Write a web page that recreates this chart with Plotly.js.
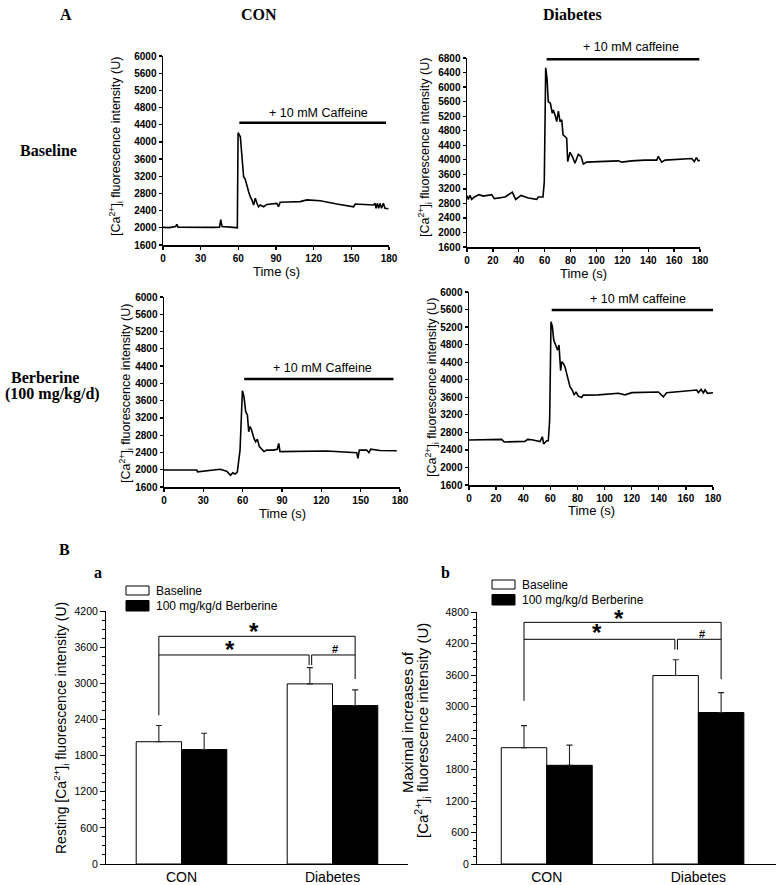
<!DOCTYPE html>
<html><head><meta charset="utf-8">
<script src="https://cdn.plot.ly/plotly-3.0.1.min.js"></script>
<style>html,body{margin:0;padding:0;background:#fff}#chart{width:776px;height:885px}</style>
</head><body><div id="chart"></div>
<script>
// ---------- DATA ----------
// Panel A, CON baseline
const conBaseT = [0,5,10,11,12,20,30,40,45,46,47,52,56,59.2,59.8,61.6,62.9,64.2,65.5,66.9,68.2,69.5,70.8,72.2,73.5,74.8,76.1,77.4,80.1,82.7,90.7,92,93.3,100,109.3,114.6,125.2,138.5,151.8,153.1,160,167.7,168.9,169.7,170.7,171.8,172.8,174.1,175.5,176.8,179.5];
const conBaseV = [2010,2005,2030,2080,2015,2010,2005,2010,2015,2190,2030,2025,2010,2000,4215,4120,3735,3190,3130,2960,2840,2725,2650,2530,2690,2570,2490,2530,2490,2545,2570,2490,2595,2600,2610,2650,2630,2555,2490,2555,2545,2530,2570,2455,2570,2455,2570,2455,2570,2455,2445];
// Panel A, Diabetes baseline
const diaBaseT = [0,1,2.3,3.6,5.7,9.3,12.6,19.1,21.1,29.4,35,37.6,41.7,47.4,53.8,55.1,58.7,59.7,60.8,61.8,62.8,64.4,65.9,66.7,68,69.3,70.6,71.9,73.2,74.2,75.7,77,77.8,79.6,81.4,83.4,86,88.1,89.9,92.5,101.5,117,119.5,127.2,137.5,146.6,147.8,150.4,153,163.3,173.6,175.6,177.2,178.7,180];
const diaBaseV = [3020,2910,3020,2910,2975,3040,3000,3040,2930,2975,3110,2910,3020,2950,2910,2975,2975,3390,6530,6240,5600,5555,5280,5370,5230,5050,5340,5050,5100,4685,4640,4590,3950,4205,4090,3905,4150,4090,3880,3935,3950,3970,3935,3970,3990,3990,4095,3935,3990,4005,4035,3950,4060,3970,3990];
// Panel A, CON berberine
const conBerbT = [0,25.0,25.6,41.5,42.8,47.8,50.8,52.4,54.2,55.9,58.0,59.8,61.0,62.3,63.6,64.6,65.6,66.8,68.6,69.9,71.2,72.7,74.5,76.3,78.3,83.4,86.4,87.5,88.5,103.7,124.1,147.0,147.9,149.0,154.6,156.3,157.7,164.8,177.5];
const conBerbV = [1995,1995,1950,1995,2010,1965,1870,1930,1900,1945,2455,3830,3690,3345,3270,2880,3000,2920,2725,2650,2705,2535,2475,2420,2455,2455,2475,2610,2420,2420,2435,2395,2265,2455,2455,2395,2475,2445,2440];
// Panel A, Diabetes berberine
const diaBerbT = [0,24.1,26,41.3,43.3,46.3,52.4,54.1,55.1,56.1,57.3,58.5,59.5,60.5,61.5,62.5,63.9,65.4,66.4,67.6,68.4,69.6,70.8,72.8,74.5,76.2,77.5,78.9,80.6,83.1,84.3,95.4,110.2,115.1,120.1,139.7,143.4,145.8,156.9,168,169.2,171.2,172.9,174.1,176,180];
const diaBerbV = [2625,2640,2580,2595,2640,2630,2590,2700,2535,2565,2610,2610,3080,5320,5210,4905,4790,4675,4790,4205,4410,4370,4295,4070,3840,3765,3650,3725,3625,3595,3650,3655,3690,3655,3705,3720,3610,3705,3740,3765,3705,3780,3700,3770,3690,3705];
const caffeineLabels = ['+ 10 mM Caffeine','+ 10 mM caffeine','+ 10 mM Caffeine','+ 10 mM caffeine'];

// Panel B
const groups = ['CON','Diabetes'];
const seriesNames = ['Baseline','100 mg/kg/d Berberine'];
const restBase = [2030, 2990];   const restBaseErr = [270, 270];
const restBerb = [1900, 2630];   const restBerbErr = [270, 260];
const maxBase  = [2215, 3590];   const maxBaseErr  = [420, 300];
const maxBerb  = [1880, 2885];   const maxBerbErr  = [385, 380];

// ---------- LAYOUT ----------
const W = 776, H = 885;
const px = x => x / W, py = y => 1 - y / H;
const SANS = 'Liberation Sans, Arial, sans-serif';
const SERIF = 'Liberation Serif, Times New Roman, serif';
const caLabel = '[Ca<sup>2+</sup>]<sub>i</sub> fluorescence intensity (U)';

const traces = [];
const layout = {
  width: W, height: H, margin: {l:0, r:0, t:0, b:0},
  paper_bgcolor: '#fff', plot_bgcolor: 'rgba(0,0,0,0)',
  showlegend: false, barmode: 'group', bargap: 0.4, bargroupgap: 0,
  font: {family: SANS, color: '#000'},
  annotations: [], shapes: []
};
const ann = o => layout.annotations.push(Object.assign({showarrow:false, xanchor:'center', yanchor:'middle',
  xref:'paper', yref:'paper', font:{family:SANS, size:13, color:'#000'}}, o));

const panels = [
  {id:'',  t:conBaseT, v:conBaseV, bx:[163,389], by:[56,245],  yr:[1600,6000], xd:30, ytx:116, yty:147, cap:[60.8,177.6,4447,123.5,4680]},
  {id:'2', t:diaBaseT, v:diaBaseV, bx:[467,700], by:[58,247],  yr:[1600,6800], xd:20, ytx:425, yty:148, cap:[61.5,179.5,6764,127,7110]},
  {id:'3', t:conBerbT, v:conBerbV, bx:[164,400], by:[297,487], yr:[1600,6000], xd:30, ytx:126, yty:394, cap:[61.2,175,4101,121,4363]},
  {id:'4', t:diaBerbT, v:diaBerbV, bx:[469,713], by:[292,485], yr:[1600,6000], xd:20, ytx:432, yty:388, cap:[61,180,5590,125,5833]}
];

panels.forEach((p, i) => {
  const xr = 'x' + p.id, yr = 'y' + p.id;
  traces.push({type:'scatter', mode:'lines', x:p.t, y:p.v, xaxis:xr, yaxis:yr,
    line:{color:'#000', width:1.6}, hoverinfo:'skip'});
  const common = {ticks:'outside', ticklen:3, tickwidth:1.3, tickcolor:'#000', showline:true, linewidth:1.5,
    linecolor:'#000', showgrid:false, zeroline:false,
    tickfont:{family:SANS, size:10, weight:'bold', color:'#000'}};
  layout['xaxis' + p.id] = Object.assign({domain:[px(p.bx[0]), px(p.bx[1])], anchor:yr, range:[0,180], tick0:0, dtick:p.xd}, common);
  layout['yaxis' + p.id] = Object.assign({domain:[py(p.by[1]), py(p.by[0])], anchor:xr, range:p.yr, tick0:1600, dtick:400}, common);
  // caffeine bar and label
  layout.shapes.push({type:'line', xref:xr, yref:yr, x0:p.cap[0], x1:p.cap[1], y0:p.cap[2], y1:p.cap[2], line:{color:'#000', width:2.6}});
  const lx = p.bx[0] + (p.cap[3] / 180) * (p.bx[1] - p.bx[0]);
  const ly = p.by[1] - (p.cap[4] - p.yr[0]) / (p.yr[1] - p.yr[0]) * (p.by[1] - p.by[0]);
  ann({x:px(lx), y:py(ly), text:caffeineLabels[i], font:{family:SANS, size:12.5, color:'#000'}});
  // axis titles
  ann({x:px((p.bx[0]+p.bx[1])/2), y:py(p.by[1]+26), text:'Time (s)', font:{family:SANS, size:13, color:'#000'}});
  ann({x:px(p.ytx), y:py(p.yty), text:caLabel, textangle:-90, font:{family:SANS, size:12.5, color:'#000'}});
});

// headers
const hdr = (x, y, text, size) => ann({x:px(x), y:py(y), text:text, font:{family:SERIF, size:size||16, weight:'bold', color:'#000'}});
hdr(66, 14, 'A'); hdr(259, 14, 'CON'); hdr(572, 14, 'Diabetes');
hdr(48, 150, 'Baseline');
hdr(45, 377, 'Berberine'); hdr(52, 394, '(100 mg/kg/d)');
hdr(64, 549, 'B'); hdr(98, 572, 'a'); hdr(446, 572, 'b');

// bar panels
const barPanels = [
  {id:'5', base:restBase, baseErr:restBaseErr, berb:restBerb, berbErr:restBerbErr, bx:[106,408], by:[611,864], xr:[-0.5,1.5], yr:[0,4200],
   br:{top:3780, low:3470, lLeg:2470, rLeg:3071, mid:3303}, stars:[[0.477,3860],[0.323,3555]], hash:[1.017,3575],
   leg:[126,586], tsize:14, title:[['Resting ' + caLabel, 61, 728]]},
  {id:'6', base:maxBase, baseErr:maxBaseErr, berb:maxBerb, berbErr:maxBerbErr, bx:[477,776], by:[612,864], xr:[-0.46,1.512], yr:[0,4800],
   br:{top:4603, low:4280, lLeg:3107, rLeg:3519, mid:4083}, stars:[[0.477,4680],[0.334,4405]], hash:[1.026,4385],
   leg:[492,580], tsize:15, title:[['Maximal increases of', 407, 722], [caLabel, 422, 730]]}
];

barPanels.forEach(b => {
  const xr = 'x' + b.id, yr = 'y' + b.id;
  const errStyle = {type:'data', symmetric:false, color:'#222', thickness:1.1, width:3};
  traces.push({type:'bar', name:seriesNames[0], x:[0,1], y:b.base, xaxis:xr, yaxis:yr,
    marker:{color:'#fff', line:{color:'#000', width:1}},
    error_y:Object.assign({array:b.baseErr, arrayminus:[0,0]}, errStyle), hoverinfo:'skip'});
  traces.push({type:'bar', name:seriesNames[1], x:[0,1], y:b.berb, xaxis:xr, yaxis:yr,
    marker:{color:'#000', line:{color:'#000', width:1}},
    error_y:Object.assign({array:b.berbErr, arrayminus:[0,0]}, errStyle), hoverinfo:'skip'});
  layout['xaxis' + b.id] = {domain:[px(b.bx[0]), px(b.bx[1])], anchor:yr, range:b.xr, tickvals:[0,1], ticktext:groups,
    ticks:'', showline:true, linewidth:1, linecolor:'#000', showgrid:false, zeroline:false,
    tickfont:{family:SANS, size:14, color:'#000'}};
  layout['yaxis' + b.id] = {domain:[py(b.by[1]), py(b.by[0])], anchor:xr, range:b.yr, tick0:0, dtick:600,
    ticks:'outside', ticklen:5, tickwidth:1, tickcolor:'#000', showline:true, linewidth:1, linecolor:'#000',
    showgrid:false, zeroline:false, tickfont:{family:SANS, size:10.5, color:'#000'},
    minor:{ticks:'outside', ticklen:3, dtick:150, tickwidth:1, tickcolor:'#000', showgrid:false}};
  // significance brackets
  const L = (x0, y0, x1, y1) => layout.shapes.push({type:'line', xref:xr, yref:yr, x0:x0, y0:y0, x1:x1, y1:y1, line:{color:'#000', width:1}});
  const xa = -0.15, xb1 = 0.845, xb2 = 0.862, xc = 1.15;
  L(xa, b.br.lLeg, xa, b.br.top); L(xa, b.br.top, xc, b.br.top); L(xc, b.br.top, xc, b.br.rLeg);
  L(xa, b.br.low, xb1, b.br.low); L(xb1, b.br.low, xb1, b.br.mid);
  L(xb2, b.br.mid, xb2, b.br.low); L(xb2, b.br.low, xc, b.br.low);
  b.stars.forEach(s => ann({xref:xr, yref:yr, x:s[0], y:s[1], text:'*', font:{family:SANS, size:24, weight:'bold', color:'#000'}}));
  ann({xref:xr, yref:yr, x:b.hash[0], y:b.hash[1], text:'#', font:{family:SANS, size:11, weight:'bold', color:'#000'}});
  // legend (boxes + names)
  const lx = b.leg[0], ly = b.leg[1];
  layout.shapes.push({type:'rect', xref:'paper', yref:'paper', x0:px(lx), x1:px(lx+23), y0:py(ly+9), y1:py(ly), fillcolor:'#fff', line:{color:'#000', width:1}});
  layout.shapes.push({type:'rect', xref:'paper', yref:'paper', x0:px(lx), x1:px(lx+23), y0:py(ly+25), y1:py(ly+14.5), fillcolor:'#000', line:{color:'#000', width:1}});
  ann({x:px(lx+28), y:py(ly+4.5), xanchor:'left', text:seriesNames[0], font:{family:SANS, size:12, color:'#000'}});
  ann({x:px(lx+28), y:py(ly+19.5), xanchor:'left', text:seriesNames[1], font:{family:SANS, size:12, color:'#000'}});
  // y titles
  b.title.forEach(t => ann({x:px(t[1]), y:py(t[2]), text:t[0], textangle:-90, font:{family:SANS, size:b.tsize, color:'#000'}}));
});

Plotly.newPlot('chart', traces, layout, {staticPlot:true, displayModeBar:false});
</script>
</body></html>
